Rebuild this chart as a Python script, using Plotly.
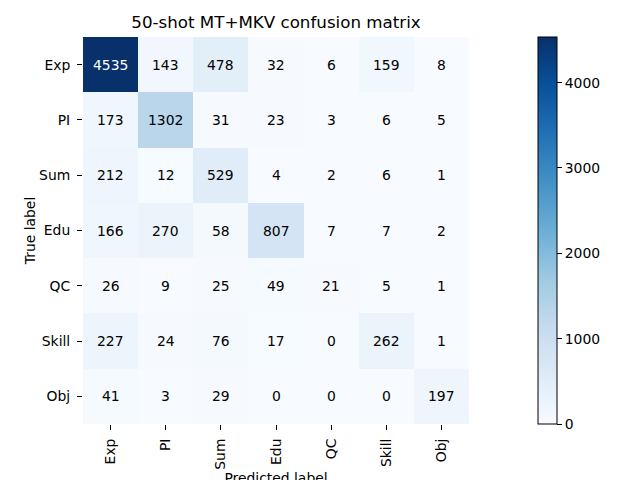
import plotly.graph_objects as go

labels = ["Exp", "PI", "Sum", "Edu", "QC", "Skill", "Obj"]
matrix = [
    [4535, 143, 478, 32, 6, 159, 8],
    [173, 1302, 31, 23, 3, 6, 5],
    [212, 12, 529, 4, 2, 6, 1],
    [166, 270, 58, 807, 7, 7, 2],
    [26, 9, 25, 49, 21, 5, 1],
    [227, 24, 76, 17, 0, 262, 1],
    [41, 3, 29, 0, 0, 0, 197],
]
title = "50-shot MT+MKV confusion matrix"
cbar_ticks = [0, 1000, 2000, 3000, 4000]

W, H = 640, 480
OFF = 8  # page body margin
x0, x1 = 83 - OFF, 469 - OFF
y0, y1 = 37 - OFF, 424 - OFF
cb_x, cb_w = 538 - OFF, 19
zmax = max(max(r) for r in matrix)
thresh = zmax / 2
FS = 13.9
FONT = "DejaVu Sans"

blues = [
    [0.0, "#f7fbff"], [0.125, "#deebf7"], [0.25, "#c6dbef"], [0.375, "#9ecae1"],
    [0.5, "#6baed6"], [0.625, "#4292c6"], [0.75, "#2171b5"], [0.875, "#08519c"],
    [1.0, "#08306b"],
]

fig = go.Figure()
fig.add_trace(go.Heatmap(
    z=matrix, x=labels, y=labels, colorscale=blues, zmin=0, zmax=zmax,
    hoverinfo="skip",
    colorbar=dict(
        thickness=cb_w, thicknessmode="pixels",
        len=(y1 - y0) / H, lenmode="fraction",
        x=cb_x / W, xanchor="left", xpad=0,
        y=1 - y0 / H, yanchor="top", ypad=0,
        outlinewidth=1, outlinecolor="black",
        tickvals=cbar_ticks, ticks="outside", ticklen=5, tickcolor="black",
        tickfont=dict(family=FONT, size=FS, color="black"),
    ),
))

for i, row in enumerate(matrix):
    for j, v in enumerate(row):
        fig.add_annotation(
            x=labels[j], y=labels[i], text=str(v), showarrow=False,
            font=dict(family=FONT, size=FS,
                      color="white" if v > thresh else "black"),
        )

axis_common = dict(
    showline=False, ticks="outside", ticklen=5, tickcolor="black",
    showgrid=False, zeroline=False,
    tickfont=dict(family=FONT, size=FS, color="black"),
)
fig.update_xaxes(domain=[x0 / W, x1 / W], tickangle=-90, ticklabelstandoff=3,
                 title=dict(text="Predicted label", standoff=2,
                            font=dict(family=FONT, size=FS, color="black")),
                 **axis_common)
fig.update_yaxes(domain=[1 - y1 / H, 1 - y0 / H], autorange="reversed",
                 ticklabelstandoff=4,
                 title=dict(text="True label", standoff=0,
                            font=dict(family=FONT, size=FS, color="black")),
                 **axis_common)

fig.update_layout(
    width=W, height=H, margin=dict(l=0, r=0, t=0, b=0),
    paper_bgcolor="white", plot_bgcolor="white",
    title=dict(text=title, x=(x0 + x1) / 2 / W, xanchor="center",
               y=1 - (22 - OFF) / H, yanchor="middle",
               font=dict(family=FONT, size=16.7, color="black")),
)

fig.write_html("out.html")
